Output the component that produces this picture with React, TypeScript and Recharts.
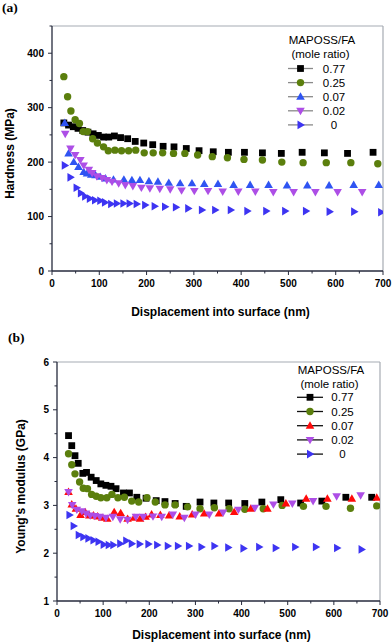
import { ScatterChart, Scatter, XAxis, YAxis, ReferenceLine } from "recharts";

const SANS = '"Liberation Sans", Arial, Helvetica, sans-serif';
const SERIF = '"Liberation Serif", "Times New Roman", serif';
const AXIS = "#262a3c";
const FRAME = "#a6abb3";

const SERIES = ["0.77", "0.25", "0.07", "0.02", "0"];
const SHAPES = ["square", "circle", "up", "down", "right"];
const COLORS_A = ["#000000", "#5b7f0d", "#2f54f2", "#ad4ee6", "#3d34f2"];
const COLORS_B = ["#000000", "#5b7f0d", "#ff0a0a", "#ad4ee6", "#3d34f2"];

const X_TICKS = [0, 50, 100, 150, 200, 250, 300, 350, 400, 450, 500, 550, 600, 650, 700];
const HARD_TICKS = [0, 50, 100, 150, 200, 250, 300, 350, 400, 450];
const MOD_TICKS = [1, 1.5, 2, 2.5, 3, 3.5, 4, 4.5, 5, 5.5, 6];

// (a) hardness, MPa
const hx77 = [25, 35, 45, 55, 65, 76, 87, 98, 109, 120, 132, 145, 160, 176, 194, 213, 235, 258, 284, 311, 341, 373, 407, 445, 485, 529, 576, 625, 679];
const hy77 = [272, 268, 265, 262, 258, 255, 252, 249, 246, 246, 248, 245, 243, 238, 235, 232, 229, 228, 225, 221, 219, 218, 218, 217, 216, 218, 217, 216, 218];
const hx25 = [25, 33, 40, 49, 58, 66, 75, 86, 96, 109, 119, 133, 147, 162, 177, 195, 214, 234, 257, 281, 308, 339, 371, 406, 445, 486, 531, 580, 632, 689];
const hy25 = [357, 320, 294, 278, 271, 256, 256, 243, 235, 228, 221, 222, 221, 221, 222, 217, 217, 217, 216, 216, 213, 210, 208, 205, 204, 200, 199, 199, 199, 197];
const hx07 = [27, 35, 46, 56, 67, 74, 83, 92, 102, 113, 130, 152, 169, 186, 205, 224, 247, 271, 296, 322, 351, 384, 419, 458, 497, 540, 586, 638, 691];
const hy07 = [272, 216, 200, 191, 182, 179, 177, 176, 173, 170, 168, 168, 167, 167, 165, 164, 162, 161, 161, 160, 160, 158, 158, 158, 157, 157, 157, 158, 158];
const hx02 = [28, 39, 49, 60, 67, 78, 85, 95, 106, 116, 127, 141, 155, 171, 189, 207, 228, 250, 274, 301, 330, 361, 394, 430, 468, 511, 557, 604, 656];
const hy02 = [252, 225, 213, 204, 194, 186, 180, 174, 171, 167, 164, 161, 158, 156, 153, 152, 151, 150, 148, 147, 147, 146, 146, 146, 145, 145, 145, 145, 145];
const hx00 = [27, 39, 52, 61, 70, 80, 91, 102, 112, 125, 137, 151, 164, 179, 197, 217, 239, 262, 288, 317, 345, 378, 413, 453, 493, 537, 587, 639, 696];
const hy00 = [194, 172, 153, 143, 137, 133, 130, 129, 126, 123, 124, 124, 124, 123, 121, 119, 118, 117, 115, 112, 112, 112, 110, 110, 110, 110, 109, 109, 108];

// (b) Young's modulus, GPa
const mx77 = [25, 32, 39, 46, 56, 64, 74, 85, 95, 106, 117, 128, 144, 157, 173, 193, 215, 234, 256, 280, 310, 340, 372, 407, 444, 485, 528, 574, 626, 682];
const my77 = [4.46, 4.25, 4.04, 3.88, 3.67, 3.69, 3.59, 3.52, 3.45, 3.42, 3.4, 3.35, 3.26, 3.26, 3.17, 3.15, 3.1, 3.08, 3.04, 2.98, 3.07, 3.05, 3.05, 3.04, 3.07, 3.12, 3.05, 3.09, 3.17, 3.17];
const mx25 = [25, 32, 39, 49, 57, 66, 75, 85, 95, 108, 119, 132, 146, 162, 177, 195, 213, 234, 256, 283, 310, 341, 373, 407, 447, 488, 534, 583, 636, 693];
const my25 = [4.08, 3.85, 3.66, 3.49, 3.36, 3.35, 3.23, 3.19, 3.16, 3.16, 3.23, 3.16, 3.17, 3.09, 3.07, 3.16, 3.07, 3.01, 3.01, 2.97, 2.93, 2.95, 2.93, 2.92, 2.93, 3.0, 2.98, 2.98, 2.94, 2.99];
const mx07 = [25, 32, 41, 51, 61, 70, 79, 88, 98, 109, 124, 138, 153, 167, 180, 192, 205, 224, 243, 266, 293, 319, 351, 384, 420, 456, 496, 540, 586, 639, 693];
const my07 = [3.28, 3.02, 2.93, 2.8, 2.86, 2.79, 2.79, 2.77, 2.74, 2.72, 2.86, 2.84, 2.72, 2.74, 2.72, 2.76, 2.81, 2.8, 2.79, 2.77, 2.81, 2.83, 2.83, 2.86, 2.93, 2.93, 3.04, 3.14, 3.14, 3.14, 3.16];
const mx02 = [25, 33, 43, 54, 63, 72, 82, 93, 106, 121, 137, 153, 171, 187, 208, 227, 251, 276, 300, 330, 360, 393, 429, 469, 510, 555, 606, 658];
const my02 = [3.28, 3.01, 2.91, 2.88, 2.83, 2.79, 2.78, 2.76, 2.74, 2.76, 2.71, 2.7, 2.76, 2.76, 2.77, 2.76, 2.81, 2.74, 2.81, 2.81, 2.85, 2.91, 2.95, 3.02, 3.04, 3.09, 3.19, 3.21];
const mx00 = [27, 36, 47, 57, 68, 79, 90, 101, 112, 122, 137, 150, 162, 179, 198, 217, 240, 262, 286, 313, 341, 371, 404, 438, 474, 516, 561, 607, 660];
const my00 = [2.8, 2.57, 2.38, 2.34, 2.31, 2.27, 2.24, 2.18, 2.17, 2.17, 2.2, 2.26, 2.2, 2.19, 2.19, 2.17, 2.15, 2.15, 2.15, 2.13, 2.15, 2.12, 2.1, 2.13, 2.11, 2.13, 2.13, 2.11, 2.08];

const pts = (xs: number[], ys: number[]) => xs.map((x, i) => ({ x, y: ys[i] }));

const HARD = [pts(hx77, hy77), pts(hx25, hy25), pts(hx07, hy07), pts(hx02, hy02), pts(hx00, hy00)];
const MOD = [pts(mx77, my77), pts(mx25, my25), pts(mx07, my07), pts(mx02, my02), pts(mx00, my00)];

function Mark({ cx, cy, kind, color }: { cx: number; cy: number; kind: string; color: string }) {
  if (cx == null || cy == null) return null;
  switch (kind) {
    case "square":
      return <rect x={cx - 3.4} y={cy - 3.4} width={6.8} height={6.8} fill={color} />;
    case "circle":
      return <circle cx={cx} cy={cy} r={3.7} fill={color} />;
    case "up":
      return <path d={`M${cx},${cy - 4.4}L${cx + 4.3},${cy + 3}L${cx - 4.3},${cy + 3}Z`} fill={color} />;
    case "down":
      return <path d={`M${cx - 4.3},${cy - 3}L${cx + 4.3},${cy - 3}L${cx},${cy + 4.4}Z`} fill={color} />;
    default:
      return <path d={`M${cx - 3},${cy - 4.3}L${cx + 4.4},${cy}L${cx - 3},${cy + 4.3}Z`} fill={color} />;
  }
}

const tickText = { fontFamily: SANS, fontSize: 10, fontWeight: 700, fill: "#000" };

function XTick({ x, y, payload }: any) {
  const v = payload.value;
  const major = v % 100 === 0;
  return (
    <g>
      <line x1={x} x2={x} y1={y} y2={y + (major ? 4 : 2.5)} stroke={AXIS} strokeWidth={1} />
      {major && (
        <text x={x} y={y + 16.3} textAnchor="middle" {...tickText}>
          {v}
        </text>
      )}
    </g>
  );
}

function YTick({ x, y, payload, step }: any) {
  const v = payload.value;
  const major = Math.abs(v / step - Math.round(v / step)) < 1e-6;
  return (
    <g>
      <line x1={x} x2={x - (major ? 4 : 2.5)} y1={y} y2={y} stroke={AXIS} strokeWidth={1} />
      {major && (
        <text x={x - 8} y={y + 3.6} textAnchor="end" {...tickText}>
          {v}
        </text>
      )}
    </g>
  );
}

const titleStyle = { fontFamily: SANS, fontSize: 12, fontWeight: 700, fill: "#000" };

function Panel({
  data,
  colors,
  yDomain,
  yTicks,
  yStep,
  yTitle,
  width,
  height,
  margin,
  yWidth,
  xHeight,
  yTitleX,
}: any) {
  return (
    <ScatterChart width={width} height={height} margin={margin}>
      <XAxis
        type="number"
        dataKey="x"
        domain={[0, 700]}
        ticks={X_TICKS}
        interval={0}
        allowDataOverflow
        height={xHeight}
        tickSize={0}
        tickMargin={0}
        tickLine={false}
        axisLine={{ stroke: AXIS, strokeWidth: 1.3 }}
        tick={(p: any) => <XTick {...p} />}
        label={({ viewBox }: any) => (
          <text x={viewBox.x + viewBox.width / 2 + 3} y={viewBox.y + viewBox.height - 5} textAnchor="middle" {...titleStyle}>
            Displacement into surface (nm)
          </text>
        )}
      />
      <YAxis
        type="number"
        dataKey="y"
        domain={yDomain}
        ticks={yTicks}
        interval={0}
        allowDataOverflow
        width={yWidth}
        tickSize={0}
        tickMargin={0}
        tickLine={false}
        axisLine={{ stroke: AXIS, strokeWidth: 1.3 }}
        tick={(p: any) => <YTick {...p} step={yStep} />}
        label={({ viewBox }: any) => {
          const cx = viewBox.x + yTitleX;
          const cy = viewBox.y + viewBox.height / 2 + 5;
          return (
            <text x={cx} y={cy} transform={`rotate(-90 ${cx} ${cy})`} textAnchor="middle" dominantBaseline="central" {...titleStyle}>
              {yTitle}
            </text>
          );
        }}
      />
      <ReferenceLine y={yDomain[1]} stroke={FRAME} strokeWidth={1.2} />
      <ReferenceLine x={700} stroke={FRAME} strokeWidth={1.2} />
      {data.map((d: any, i: number) => (
        <Scatter
          key={SERIES[i]}
          name={SERIES[i]}
          data={d}
          isAnimationActive={false}
          shape={(p: any) => <Mark cx={p.cx} cy={p.cy} kind={SHAPES[i]} color={colors[i]} />}
        />
      ))}
    </ScatterChart>
  );
}

function LegendBox({ left, top, colors, lineColor, lineX1, lineX2, numX, titleX, rowY0, rowStep, titleY }: any) {
  const mx = (lineX1 + lineX2) / 2;
  return (
    <svg width={110} height={110} style={{ position: "absolute", left, top, overflow: "visible" }}>
      <text x={titleX} y={titleY} textAnchor="middle" fontFamily={SANS} fontSize={11.5} fill="#000">
        MAPOSS/FA
      </text>
      <text x={titleX - 1.5} y={titleY + 14} textAnchor="middle" fontFamily={SANS} fontSize={11.5} fill="#000">
        (mole ratio)
      </text>
      {SERIES.map((s, i) => {
        const cy = rowY0 + i * rowStep;
        return (
          <g key={s}>
            <line x1={lineX1} x2={lineX2} y1={cy} y2={cy} stroke={lineColor} strokeWidth={1.3} />
            <Mark cx={mx} cy={cy} kind={SHAPES[i]} color={colors[i]} />
            <text x={numX} y={cy + 4} textAnchor="middle" fontFamily={SANS} fontSize={11.5} fill="#000">
              {s}
            </text>
          </g>
        );
      })}
    </svg>
  );
}

const panelTag = { position: "absolute" as const, fontFamily: SERIF, fontWeight: 700, fontSize: 13.5, lineHeight: "14px" };

export default function App() {
  return (
    <div style={{ position: "absolute", left: 0, top: 0, width: 392, height: 644, background: "#fff", fontFamily: SANS }}>
      <div style={{ ...panelTag, left: 2, top: 1 }}>(a)</div>
      <div style={{ position: "absolute", left: 0, top: 0 }}>
        <Panel
          data={HARD}
          colors={COLORS_A}
          yDomain={[0, 450]}
          yTicks={HARD_TICKS}
          yStep={100}
          yTitle="Hardness (MPa)"
          width={392}
          height={321}
          margin={{ top: 26, right: 9, bottom: 0, left: 0 }}
          yWidth={52}
          xHeight={50}
          yTitleX={10}
        />
      </div>
      <LegendBox
        left={280}
        top={0}
        colors={COLORS_A}
        lineColor="#8a8a8a"
        lineX1={8}
        lineX2={33}
        numX={54}
        titleX={42}
        titleY={43.5}
        rowY0={68.5}
        rowStep={14.1}
      />
      <div style={{ ...panelTag, left: 8, top: 331 }}>(b)</div>
      <div style={{ position: "absolute", left: 0, top: 322 }}>
        <Panel
          data={MOD}
          colors={COLORS_B}
          yDomain={[1, 6]}
          yTicks={MOD_TICKS}
          yStep={1}
          yTitle="Young's modulus (GPa)"
          width={392}
          height={322}
          margin={{ top: 40, right: 12, bottom: 0, left: 0 }}
          yWidth={57}
          xHeight={43}
          yTitleX={21}
        />
      </div>
      <LegendBox
        left={280}
        top={322}
        colors={COLORS_B}
        lineColor="#111"
        lineX1={17}
        lineX2={43}
        numX={62.5}
        titleX={51}
        titleY={52}
        rowY0={75.3}
        rowStep={14.2}
      />
    </div>
  );
}
